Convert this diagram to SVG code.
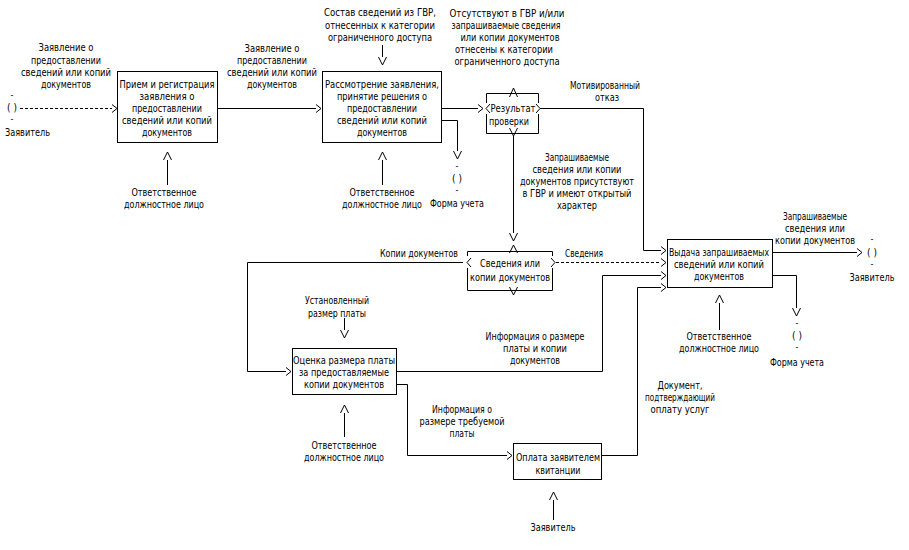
<svg xmlns="http://www.w3.org/2000/svg" width="909" height="550" viewBox="0 0 909 550">
<style>
text{font-family:"DejaVu Sans Condensed","DejaVu Sans","Liberation Sans",sans-serif;font-size:11px;fill:#000;text-anchor:middle}
.l{text-anchor:start}
.r{text-anchor:end}
.h{font-size:9px}
.t{font-size:10px}
.s{font-size:10px}
.box{fill:#fff;stroke:#000;stroke-width:1}
.ln{fill:none;stroke:#000;stroke-width:1}
.d{stroke-dasharray:3,2}
</style>
<defs>
<marker id="ah" viewBox="-1 -6 9 12" markerWidth="9" markerHeight="12" refX="0" refY="0" orient="auto" markerUnits="userSpaceOnUse">
<path d="M0,-4 L5,0 L0,4" fill="none" stroke="#000" stroke-width="1"/>
</marker>
<marker id="av" viewBox="-1 -6 11 12" markerWidth="11" markerHeight="12" refX="0" refY="0" orient="auto" markerUnits="userSpaceOnUse">
<path d="M0,-4 L8,0 L0,4" fill="none" stroke="#000" stroke-width="1"/>
</marker>
</defs>
<rect width="909" height="550" fill="#fff"/>

<g id="connectors">
<path class="ln d" d="M20,108.5 H112" marker-end="url(#ah)"/>
<path class="ln" d="M218,108.5 H316" marker-end="url(#ah)"/>
<path class="ln" d="M167.5,185 V160" marker-end="url(#av)"/>
<path class="ln" d="M382.5,45 V57" marker-end="url(#av)"/>
<path class="ln" d="M382.5,185 V160" marker-end="url(#av)"/>
<path class="ln" d="M442,120.5 H457.5 V151" marker-end="url(#av)"/>
<path class="ln" d="M442,108.5 H478" marker-end="url(#ah)"/>
<path class="ln" d="M540,108.5 H643.5 V250.5 H661" marker-end="url(#ah)"/>
<path class="ln" d="M513.5,136 V233" marker-end="url(#av)"/>
<path class="ln" d="M463,262.5 H247.5 V371.5 H286" marker-end="url(#ah)"/>
<path class="ln d" d="M556,262.5 H661" marker-end="url(#ah)"/>
<path class="ln" d="M344.5,318 V330" marker-end="url(#av)"/>
<path class="ln" d="M344.5,437 V413" marker-end="url(#av)"/>
<path class="ln" d="M397,371.5 H602.5 V275.5 H661" marker-end="url(#ah)"/>
<path class="ln" d="M397,384.5 H407.5 V455.5 H507" marker-end="url(#ah)"/>
<path class="ln" d="M553.5,520 V500" marker-end="url(#av)"/>
<path class="ln" d="M602,455.5 H637.5 V287.5 H661" marker-end="url(#ah)"/>
<path class="ln" d="M719.5,330 V303" marker-end="url(#av)"/>
<path class="ln" d="M773,252.5 H857" marker-end="url(#ah)"/>
<path class="ln" d="M773,275.5 H796.5 V308" marker-end="url(#av)"/>
</g>

<g id="tunnel-left">
<text class="h" x="12" y="98">-</text>
<text class="t" x="12" y="111">( )</text>
<text class="h" x="12" y="122">-</text>
<text class="l" x="5" y="136" textLength="45" lengthAdjust="spacingAndGlyphs">Заявитель</text>
</g>

<g id="label-in1">
<text x="66" y="51" textLength="55" lengthAdjust="spacingAndGlyphs">Заявление о</text>
<text x="66" y="64" textLength="70" lengthAdjust="spacingAndGlyphs">предоставлении</text>
<text x="66" y="76" textLength="90" lengthAdjust="spacingAndGlyphs">сведений или копий</text>
<text x="66" y="88" textLength="50" lengthAdjust="spacingAndGlyphs">документов</text>
</g>

<g id="node-priem">
<rect class="box" x="117.5" y="71.5" width="100" height="71"/>
<text x="167" y="88" textLength="95" lengthAdjust="spacingAndGlyphs">Прием и регистрация</text>
<text x="167" y="100" textLength="55" lengthAdjust="spacingAndGlyphs">заявления о</text>
<text x="167" y="112" textLength="70" lengthAdjust="spacingAndGlyphs">предоставлении</text>
<text x="167" y="124" textLength="90" lengthAdjust="spacingAndGlyphs">сведений или копий</text>
<text x="167" y="136" textLength="50" lengthAdjust="spacingAndGlyphs">документов</text>
</g>

<g id="mech-1">
<text x="164" y="196" textLength="65" lengthAdjust="spacingAndGlyphs">Ответственное</text>
<text x="164" y="208" textLength="80" lengthAdjust="spacingAndGlyphs">должностное лицо</text>
</g>

<g id="label-in2">
<text x="272" y="52" textLength="55" lengthAdjust="spacingAndGlyphs">Заявление о</text>
<text x="272" y="64" textLength="70" lengthAdjust="spacingAndGlyphs">предоставлении</text>
<text x="272" y="76" textLength="90" lengthAdjust="spacingAndGlyphs">сведений или копий</text>
<text x="272" y="88" textLength="50" lengthAdjust="spacingAndGlyphs">документов</text>
</g>

<g id="ctrl-2">
<text x="380" y="16" textLength="112" lengthAdjust="spacingAndGlyphs">Состав сведений из ГВР,</text>
<text x="380" y="29" textLength="110" lengthAdjust="spacingAndGlyphs">отнесенных к категории</text>
<text x="380" y="41" textLength="104" lengthAdjust="spacingAndGlyphs">ограниченного доступа</text>
</g>

<g id="node-rassm">
<rect class="box" x="322.5" y="71.5" width="119" height="71"/>
<text x="382" y="88" textLength="114" lengthAdjust="spacingAndGlyphs">Рассмотрение заявления,</text>
<text x="382" y="100" textLength="90" lengthAdjust="spacingAndGlyphs">принятие решения о</text>
<text x="382" y="112" textLength="70" lengthAdjust="spacingAndGlyphs">предоставлении</text>
<text x="382" y="124" textLength="90" lengthAdjust="spacingAndGlyphs">сведений или копий</text>
<text x="382" y="136" textLength="50" lengthAdjust="spacingAndGlyphs">документов</text>
</g>

<g id="mech-2">
<text x="382" y="196" textLength="65" lengthAdjust="spacingAndGlyphs">Ответственное</text>
<text class="s" x="382" y="208" textLength="80" lengthAdjust="spacingAndGlyphs">должностное лицо</text>
</g>

<g id="tunnel-forma1">
<text class="h" x="457" y="169">-</text>
<text class="t" x="457" y="182">( )</text>
<text class="h" x="457" y="193">-</text>
<text class="s" x="457" y="207" textLength="54" lengthAdjust="spacingAndGlyphs">Форма учета</text>
</g>

<g id="label-ctrl-res">
<text x="507" y="17" textLength="115" lengthAdjust="spacingAndGlyphs">Отсутствуют в ГВР и/или</text>
<text x="506" y="29" textLength="109" lengthAdjust="spacingAndGlyphs">запрашиваемые сведения</text>
<text x="510" y="41" textLength="99" lengthAdjust="spacingAndGlyphs">или копии документов</text>
<text x="504" y="53" textLength="98" lengthAdjust="spacingAndGlyphs">отнесены к категории</text>
<text x="507" y="65" textLength="105" lengthAdjust="spacingAndGlyphs">ограниченного доступа</text>
</g>

<g id="node-result">
<path class="ln" d="M486.5,93.5 H538.5 M486.5,93.5 V103 M486.5,114 V133.5 M538.5,93.5 V103 M538.5,114 V133.5 M486.5,133.5 H538.5"/>
<path class="ln" d="M490,104 L486,108.5 L490,113"/>
<path class="ln" d="M536,104 L540,108.5 L536,113"/>
<path class="ln" d="M509.5,97 L513.5,88 L517.5,97"/>
<path class="ln" d="M509.5,128 L513.5,136 L517.5,128"/>
<text x="513" y="112" textLength="45" lengthAdjust="spacingAndGlyphs">Результат</text>
<text x="509" y="125" textLength="40" lengthAdjust="spacingAndGlyphs">проверки</text>
</g>

<g id="label-otkaz">
<text x="605" y="89" textLength="70" lengthAdjust="spacingAndGlyphs">Мотивированный</text>
<text x="607" y="101" textLength="24" lengthAdjust="spacingAndGlyphs">отказ</text>
</g>

<g id="label-present">
<text x="577" y="161" textLength="64" lengthAdjust="spacingAndGlyphs">Запрашиваемые</text>
<text x="577" y="173" textLength="89" lengthAdjust="spacingAndGlyphs">сведения или копии</text>
<text x="577" y="185" textLength="114" lengthAdjust="spacingAndGlyphs">документов присутствуют</text>
<text x="577" y="197" textLength="109" lengthAdjust="spacingAndGlyphs">в ГВР и имеют открытый</text>
<text x="577" y="209" textLength="40" lengthAdjust="spacingAndGlyphs">характер</text>
</g>

<g id="node-svedenia">
<path class="ln" d="M467.5,251.5 H552.5 M467.5,251.5 V256 M467.5,268 V290.5 M552.5,251.5 V256 M552.5,268 V290.5 M467.5,290.5 H552.5"/>
<path class="ln" d="M471,258 L467,262.5 L471,267"/>
<path class="ln" d="M551,258 L555,262.5 L551,267"/>
<path class="ln" d="M509.5,253 L513.5,245 L517.5,253"/>
<path class="ln" d="M509.5,287 L513.5,295 L517.5,287"/>
<text x="510" y="267" textLength="60" lengthAdjust="spacingAndGlyphs">Сведения или</text>
<text x="510" y="281" textLength="80" lengthAdjust="spacingAndGlyphs">копии документов</text>
</g>

<text class="r" x="458" y="257" textLength="78" lengthAdjust="spacingAndGlyphs">Копии документов</text>
<text class="l" x="565" y="257" textLength="38" lengthAdjust="spacingAndGlyphs">Сведения</text>

<g id="node-vydacha">
<rect class="box" x="667.5" y="239.5" width="105" height="48"/>
<text x="719" y="256" textLength="100" lengthAdjust="spacingAndGlyphs">Выдача запрашиваемых</text>
<text x="719" y="268" textLength="90" lengthAdjust="spacingAndGlyphs">сведений или копий</text>
<text x="719" y="280" textLength="50" lengthAdjust="spacingAndGlyphs">документов</text>
</g>

<g id="label-out5">
<text x="815" y="220" textLength="64" lengthAdjust="spacingAndGlyphs">Запрашиваемые</text>
<text x="815" y="232" textLength="60" lengthAdjust="spacingAndGlyphs">сведения или</text>
<text x="815" y="244" textLength="80" lengthAdjust="spacingAndGlyphs">копии документов</text>
</g>

<g id="tunnel-right">
<text class="h" x="872" y="242">-</text>
<text class="t" x="872" y="256">( )</text>
<text class="h" x="872" y="267">-</text>
<text x="872" y="281" textLength="45" lengthAdjust="spacingAndGlyphs">Заявитель</text>
</g>

<g id="mech-5">
<text x="719" y="340" textLength="65" lengthAdjust="spacingAndGlyphs">Ответственное</text>
<text x="719" y="352" textLength="80" lengthAdjust="spacingAndGlyphs">должностное лицо</text>
</g>

<g id="tunnel-forma2">
<text class="h" x="797" y="326">-</text>
<text class="t" x="797" y="339">( )</text>
<text class="h" x="797" y="350">-</text>
<text x="797" y="366" textLength="54" lengthAdjust="spacingAndGlyphs">Форма учета</text>
</g>

<g id="ctrl-ocenka">
<text x="337" y="304" textLength="64" lengthAdjust="spacingAndGlyphs">Установленный</text>
<text x="337" y="317" textLength="58" lengthAdjust="spacingAndGlyphs">размер платы</text>
</g>

<g id="node-ocenka">
<rect class="box" x="292.5" y="348.5" width="104" height="46"/>
<text x="344" y="364" textLength="102" lengthAdjust="spacingAndGlyphs">Оценка размера платы</text>
<text x="344" y="376" textLength="90" lengthAdjust="spacingAndGlyphs">за предоставляемые</text>
<text x="344" y="388" textLength="80" lengthAdjust="spacingAndGlyphs">копии документов</text>
</g>

<g id="mech-ocenka">
<text x="344" y="449" textLength="65" lengthAdjust="spacingAndGlyphs">Ответственное</text>
<text x="344" y="461" textLength="80" lengthAdjust="spacingAndGlyphs">должностное лицо</text>
</g>

<g id="label-info1">
<text x="535" y="340" textLength="99" lengthAdjust="spacingAndGlyphs">Информация о размере</text>
<text x="535" y="352" textLength="64" lengthAdjust="spacingAndGlyphs">платы и копии</text>
<text x="535" y="364" textLength="50" lengthAdjust="spacingAndGlyphs">документов</text>
</g>

<g id="label-info2">
<text x="462" y="413" textLength="60" lengthAdjust="spacingAndGlyphs">Информация о</text>
<text x="462" y="425" textLength="85" lengthAdjust="spacingAndGlyphs">размере требуемой</text>
<text x="462" y="437" textLength="25" lengthAdjust="spacingAndGlyphs">платы</text>
</g>

<g id="label-doc">
<text x="680" y="389" textLength="45" lengthAdjust="spacingAndGlyphs">Документ,</text>
<text x="680" y="401" textLength="70" lengthAdjust="spacingAndGlyphs">подтверждающий</text>
<text x="680" y="413" textLength="59" lengthAdjust="spacingAndGlyphs">оплату услуг</text>
</g>

<g id="node-oplata">
<rect class="box" x="513.5" y="443.5" width="88" height="36"/>
<text x="558" y="461" textLength="84" lengthAdjust="spacingAndGlyphs">Оплата заявителем</text>
<text x="558" y="474" textLength="45" lengthAdjust="spacingAndGlyphs">квитанции</text>
</g>

<g id="mech-oplata">
<text x="553" y="531" textLength="45" lengthAdjust="spacingAndGlyphs">Заявитель</text>
</g>
</svg>
